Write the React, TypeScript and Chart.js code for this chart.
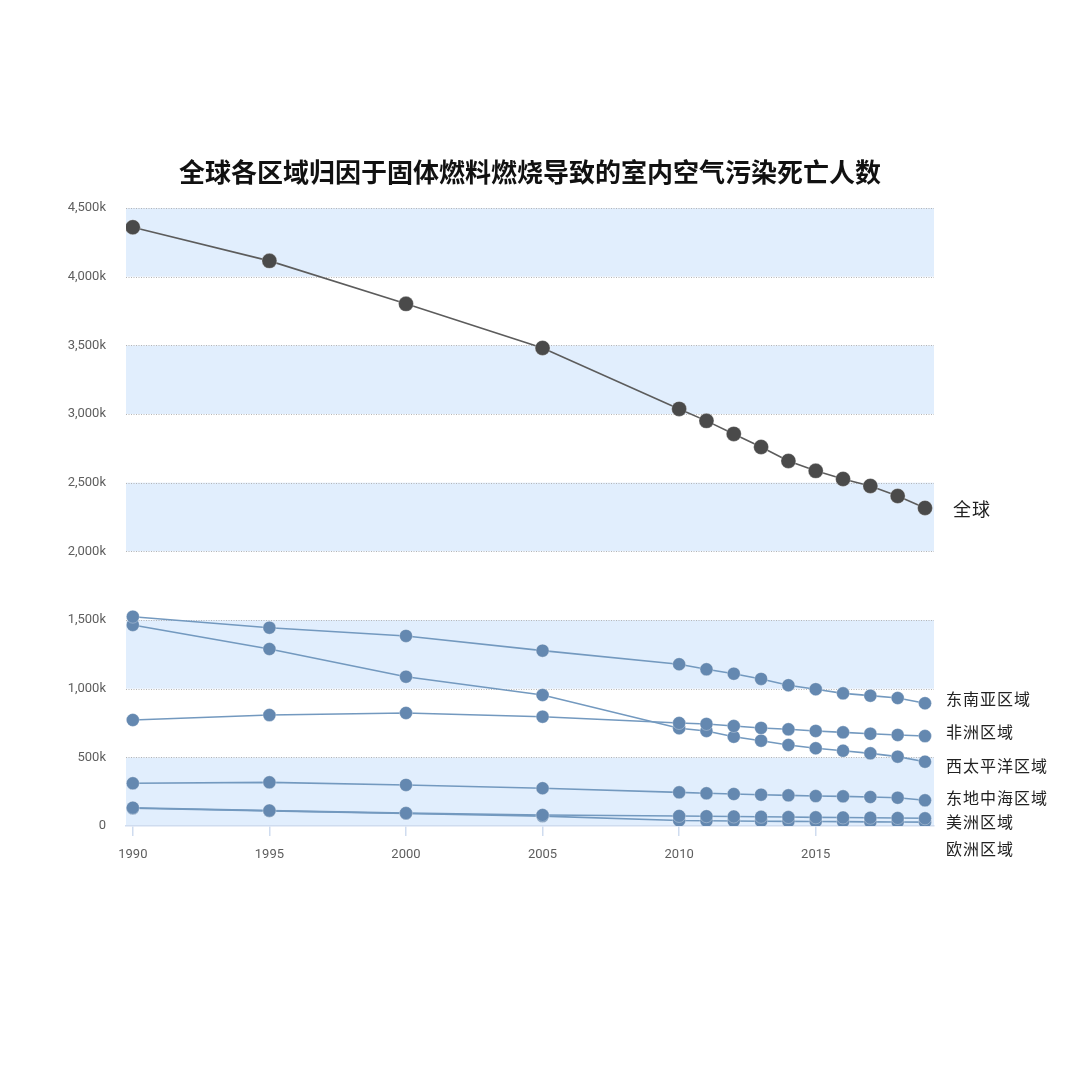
import React, { useEffect, useRef } from "react";
import { Chart, registerables } from "chart.js";

Chart.register(...registerables);

const TITLE = "全球各区域归因于固体燃料燃烧导致的室内空气污染死亡人数";

const years = [1990, 1995, 2000, 2005, 2010, 2011, 2012, 2013, 2014, 2015, 2016, 2017, 2018, 2019];

// deaths, thousands
const globalDeaths = [4360, 4115, 3802, 3481, 3037, 2950, 2855, 2760, 2658, 2586, 2527, 2476, 2403, 2316];
const seAsia = [1524, 1444, 1384, 1277, 1178, 1141, 1109, 1071, 1025, 996, 966, 949, 932, 894];
const africa = [772, 808, 823, 796, 750, 743, 728, 714, 704, 692, 682, 672, 663, 655];
const wPacific = [1464, 1289, 1087, 954, 712, 692, 650, 621, 590, 566, 548, 529, 505, 468];
const eMed = [311, 318, 299, 275, 245, 238, 233, 228, 223, 218, 216, 211, 206, 187];
const americas = [133, 112, 94, 80, 73, 71, 69, 67, 65, 63, 62, 60, 58, 56];
const europe = [129, 110, 91, 72, 40, 38, 36, 35, 34, 33, 32, 30, 29, 28];

const seriesNames = ["全球", "东南亚区域", "非洲区域", "西太平洋区域", "东地中海区域", "美洲区域", "欧洲区域"];
const seriesValues = [globalDeaths, seAsia, africa, wPacific, eMed, americas, europe];

const xTickValues = [1990, 1995, 2000, 2005, 2010, 2015];
const yTickValues = [0, 500, 1000, 1500, 2000, 2500, 3000, 3500, 4000, 4500];

// style: label vertical nudges (px) to keep right-side labels apart
const labelNudge = [1, -4, -4, 4, -2, 4, 27];

const BAND = "#e1eefd";
const GLOBAL_POINT = "#4a4a4a";
const GLOBAL_LINE = "#5c5c5c";
const REGION_POINT = "#6488b0";
const REGION_LINE = "#7399bf";
const AXIS_BLUE = "#cfdcef";
const CJK = '"Noto Sans CJK SC", sans-serif';
const TICK_FONT = 'Roboto, "Noto Sans CJK SC", sans-serif';

const bandsPlugin = {
  id: "bands",
  beforeDraw(chart: any) {
    const { ctx, chartArea, scales } = chart;
    const y = scales.y;
    ctx.save();
    ctx.fillStyle = BAND;
    for (let i = 0; i + 1 < yTickValues.length; i += 2) {
      const top = y.getPixelForValue(yTickValues[i + 1]);
      const bottom = y.getPixelForValue(yTickValues[i]);
      ctx.fillRect(chartArea.left, top, chartArea.right - chartArea.left, bottom - top);
    }
    ctx.strokeStyle = "#b5b5b5";
    ctx.lineWidth = 1;
    ctx.setLineDash([1, 1.5]);
    for (const v of yTickValues) {
      if (v === 0) continue;
      const py = Math.round(y.getPixelForValue(v)) + 0.5;
      ctx.beginPath();
      ctx.moveTo(chartArea.left, py);
      ctx.lineTo(chartArea.right, py);
      ctx.stroke();
    }
    ctx.restore();
  },
};

const labelsPlugin = {
  id: "labelsTitle",
  afterDatasetsDraw(chart: any) {
    const { ctx, chartArea } = chart;
    ctx.save();
    // title
    ctx.fillStyle = "#111";
    ctx.font = `bold 26px ${CJK}`;
    ctx.textAlign = "center";
    ctx.textBaseline = "middle";
    ctx.fillText(TITLE, (chartArea.left + chartArea.right) / 2, chartArea.top - 36);
    // right labels
    ctx.textAlign = "left";
    ctx.fillStyle = "#222";
    try {
      (ctx as any).letterSpacing = "1px";
    } catch (e) {}
    chart.data.datasets.forEach((ds: any, i: number) => {
      const meta = chart.getDatasetMeta(i);
      const last = meta.data[meta.data.length - 1];
      if (!last) return;
      const isGlobal = i === 0;
      ctx.font = `${isGlobal ? 18 : 16}px ${CJK}`;
      ctx.fillText(ds.label, last.x + (isGlobal ? 28 : 21), last.y + labelNudge[i]);
    });
    ctx.restore();
  },
};

export default function App() {
  const ref = useRef<HTMLCanvasElement | null>(null);

  useEffect(() => {
    if (!ref.current) return;
    const datasets = seriesValues.map((vals, i) => {
      const isGlobal = i === 0;
      return {
        label: seriesNames[i],
        data: years.map((x, j) => ({ x, y: vals[j] })),
        borderColor: isGlobal ? GLOBAL_LINE : REGION_LINE,
        borderWidth: 1.6,
        backgroundColor: isGlobal ? GLOBAL_POINT : REGION_POINT,
        pointBackgroundColor: isGlobal ? GLOBAL_POINT : REGION_POINT,
        pointBorderColor: "rgba(255,255,255,0.6)",
        pointBorderWidth: 0.5,
        pointRadius: isGlobal ? 7.5 : 6.5,
        pointHoverRadius: isGlobal ? 7.5 : 6.5,
        tension: 0,
        fill: false,
      };
    });

    const chart = new Chart(ref.current, {
      type: "line",
      data: { datasets },
      plugins: [bandsPlugin, labelsPlugin],
      options: {
        responsive: false,
        animation: false,
        devicePixelRatio: 1,
        layout: { padding: { top: 200, right: 130, bottom: 198, left: 0 } },
        plugins: {
          legend: { display: false },
          title: { display: false },
          tooltip: { enabled: false },
        },
        scales: {
          x: {
            type: "linear",
            min: 1989.75,
            max: 2019.33,
            afterBuildTicks: (scale: any) => {
              scale.ticks = xTickValues.map((v) => ({ value: v }));
            },
            afterFit: (scale: any) => {
              scale.height = 40;
            },
            grid: {
              display: true,
              drawOnChartArea: false,
              drawTicks: true,
              tickLength: 10,
              color: AXIS_BLUE,
              lineWidth: 1.5,
            },
            border: { display: true, color: AXIS_BLUE, width: 1.5 },
            ticks: {
              color: "#5e5e5e",
              font: { family: TICK_FONT, size: 13 },
              padding: 11,
              maxRotation: 0,
              callback: (v: any) => String(v),
            },
          },
          y: {
            type: "linear",
            min: 0,
            max: 4500,
            afterBuildTicks: (scale: any) => {
              scale.ticks = yTickValues.map((v) => ({ value: v }));
            },
            afterFit: (scale: any) => {
              scale.width = 118;
            },
            grid: { display: false, drawTicks: false },
            border: { display: false },
            ticks: {
              color: "#5e5e5e",
              font: { family: TICK_FONT, size: 13 },
              padding: 20,
              callback: (v: any) => (v === 0 ? "0" : Number(v).toLocaleString("en-US") + "k"),
            },
          },
        },
      },
    });
    return () => chart.destroy();
  }, []);

  return (
    <div style={{ width: 1056, height: 1056 }}>
      <canvas ref={ref} width={1056} height={1056} style={{ display: "block" }} />
    </div>
  );
}
